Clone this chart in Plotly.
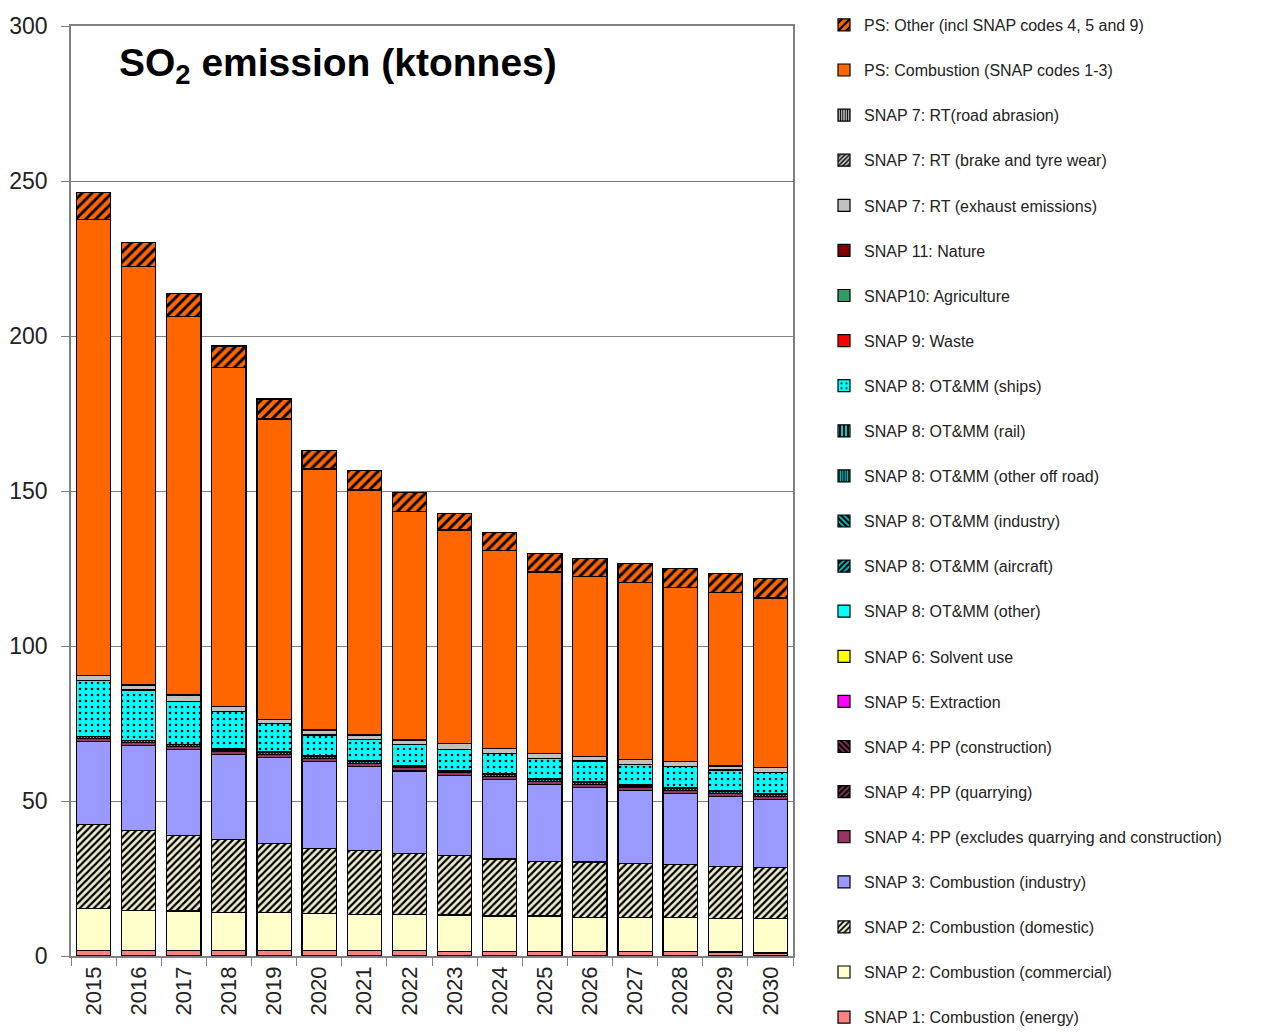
import plotly.graph_objects as go

years = ["2015", "2016", "2017", "2018", "2019", "2020", "2021", "2022",
         "2023", "2024", "2025", "2026", "2027", "2028", "2029", "2030"]

snap1_energy = [1.7, 1.7, 1.7, 1.7, 1.8, 1.8, 1.7, 1.7, 1.5, 1.5, 1.5, 1.4, 1.4, 1.4, 1.3, 1.0]
snap2_commercial = [13.7, 13.1, 12.8, 12.4, 12.3, 12.0, 11.8, 11.8, 11.7, 11.4, 11.4, 11.1, 11.1, 11.1, 10.8, 11.1]
snap2_domestic = [26.9, 25.8, 24.5, 23.5, 22.2, 20.9, 20.5, 19.6, 19.1, 18.4, 17.7, 17.8, 17.4, 16.9, 16.9, 16.5]
snap3_industry = [26.8, 27.2, 27.5, 27.5, 27.8, 28.0, 27.1, 26.6, 25.8, 25.7, 24.8, 24.0, 23.6, 23.1, 22.4, 21.9]
snap4_pp_excl = [1.0, 1.0, 1.0, 1.0, 1.0, 1.0, 1.0, 1.0, 1.0, 1.0, 1.0, 1.0, 1.0, 1.0, 1.0, 1.0]
snap8_offroad = [0.6, 0.6, 0.6, 0.6, 0.6, 0.6, 0.6, 0.6, 0.6, 0.6, 0.6, 0.6, 0.6, 0.6, 0.6, 0.6]
snap8_rail = [0.2, 0.2, 0.2, 0.2, 0.2, 0.2, 0.2, 0.2, 0.2, 0.2, 0.2, 0.2, 0.2, 0.2, 0.2, 0.2]
snap8_ships = [17.9, 16.2, 13.7, 11.9, 9.1, 6.8, 7.0, 6.6, 6.8, 6.4, 6.6, 6.8, 6.5, 6.8, 6.8, 6.8]
snap7_exhaust = [1.8, 1.6, 2.2, 1.6, 1.3, 1.6, 1.4, 1.6, 1.9, 1.8, 1.6, 1.4, 1.7, 1.6, 1.3, 1.8]
ps_combustion = [147.0, 135.0, 122.0, 109.5, 96.9, 84.2, 79.0, 73.8, 68.8, 63.7, 58.5, 58.0, 57.0, 56.1, 55.9, 54.6]
ps_other = [8.6, 7.7, 7.6, 6.9, 6.5, 5.9, 6.2, 6.0, 5.4, 6.0, 6.0, 5.9, 6.2, 6.1, 6.3, 6.3]
zeros = [0, 0, 0, 0, 0, 0, 0, 0, 0, 0, 0, 0, 0, 0, 0, 0]

# (name, values, bgcolor, pattern shape, fgcolor, pattern size, solidity) bottom -> top
series = [
    ("SNAP 1: Combustion (energy)", snap1_energy, "#FF8080", "", None, 0, 0),
    ("SNAP 2: Combustion (commercial)", snap2_commercial, "#FFFFCC", "", None, 0, 0),
    ("SNAP 2: Combustion (domestic)", snap2_domestic, "#EEEECC", "/", "#000000", 5, 0.45),
    ("SNAP 3: Combustion (industry)", snap3_industry, "#9999FF", "", None, 0, 0),
    ("SNAP 4: PP (excludes quarrying and construction)", snap4_pp_excl, "#993366", "", None, 0, 0),
    ("SNAP 4: PP (quarrying)", zeros, "#000000", "/", "#993366", 5, 0.4),
    ("SNAP 4: PP (construction)", zeros, "#000000", "\\", "#993366", 5, 0.4),
    ("SNAP 5: Extraction", zeros, "#FF00FF", "", None, 0, 0),
    ("SNAP 6: Solvent use", zeros, "#FFFF00", "", None, 0, 0),
    ("SNAP 8: OT&MM (other)", zeros, "#00FFFF", "", None, 0, 0),
    ("SNAP 8: OT&MM (aircraft)", zeros, "#000000", "/", "#00CCCC", 5, 0.45),
    ("SNAP 8: OT&MM (industry)", zeros, "#000000", "\\", "#00CCCC", 5, 0.45),
    ("SNAP 8: OT&MM (other off road)", snap8_offroad, "#000000", "|", "#00CCCC", 3, 0.5),
    ("SNAP 8: OT&MM (rail)", snap8_rail, "#000000", "|", "#00CCCC", 5, 0.5),
    ("SNAP 8: OT&MM (ships)", snap8_ships, "#00FFFF", ".", "#000000", 6, 0.15),
    ("SNAP 9: Waste", zeros, "#FF0000", "", None, 0, 0),
    ("SNAP10: Agriculture", zeros, "#339966", "", None, 0, 0),
    ("SNAP 11: Nature", zeros, "#800000", "", None, 0, 0),
    ("SNAP 7: RT (exhaust emissions)", snap7_exhaust, "#C0C0C0", "", None, 0, 0),
    ("SNAP 7: RT (brake and tyre wear)", zeros, "#C0C0C0", "/", "#000000", 4, 0.4),
    ("SNAP 7: RT(road abrasion)", zeros, "#C0C0C0", "|", "#000000", 3, 0.4),
    ("PS: Combustion (SNAP codes 1-3)", ps_combustion, "#FF6600", "", None, 0, 0),
    ("PS: Other (incl SNAP codes 4, 5 and 9)", ps_other, "#FF6600", "/", "#000000", 7, 0.4),
]

fig = go.Figure()
n = len(series)
for i, (name, vals, bg, shape, fg, size, sol) in enumerate(series):
    marker = dict(color=bg, line=dict(color="#000000", width=1.2))
    if shape:
        marker["pattern"] = dict(shape=shape, bgcolor=bg, fgcolor=fg, size=size,
                                 solidity=sol, fillmode="replace")
    fig.add_trace(go.Bar(x=years, y=vals, name=name, marker=marker,
                         legendgroup="g%02d" % i, legendrank=100 + (n - i)))

W, H = 1271, 1032
OFF = 8  # page body margin offset
L, R, T, B = 71 - OFF, 793 - OFF, 26 - OFF, 956 - OFF

fig.update_layout(
    width=W, height=H,
    margin=dict(l=0, r=0, t=0, b=0, autoexpand=False),
    barmode="stack",
    bargap=0.24,
    plot_bgcolor="white",
    paper_bgcolor="white",
    font=dict(family="Liberation Sans, Arial, sans-serif", color="#222222"),
    xaxis=dict(
        domain=[L / W, R / W],
        type="category",
        tickangle=-90,
        ticks="outside", ticklen=8, tickcolor="#808080",
        tickson="boundaries",
        showgrid=False,
        showline=True, linecolor="#808080", linewidth=1.5, mirror=True,
        tickfont=dict(size=22, color="#222222"),
    ),
    yaxis=dict(
        domain=[(H - B) / H, (H - T) / H],
        range=[0, 300],
        tickvals=[0, 50, 100, 150, 200, 250, 300],
        ticks="outside", ticklen=8, tickcolor="#808080",
        ticklabelstandoff=9,
        showgrid=True, gridcolor="#808080", gridwidth=1,
        showline=True, linecolor="#808080", linewidth=1.5, mirror=True,
        zeroline=False,
        tickfont=dict(size=23, color="#222222"),
    ),
    legend=dict(
        x=(824 - OFF) / W, xanchor="left",
        y=1.0, yanchor="top",
        traceorder="grouped",
        tracegroupgap=21.3,
        font=dict(size=16, color="#222222"),
        bgcolor="rgba(0,0,0,0)",
        itemclick=False,
    ),
    annotations=[dict(
        text="<b>SO<sub>2</sub> emission (ktonnes)</b>",
        xref="paper", yref="paper",
        x=(338 - OFF) / W, y=1 - (66 - OFF) / H,
        xanchor="center", yanchor="middle",
        showarrow=False,
        font=dict(size=39, color="#000000", family="Liberation Sans, Arial, sans-serif"),
    )],
)

fig.write_html("out.html")
